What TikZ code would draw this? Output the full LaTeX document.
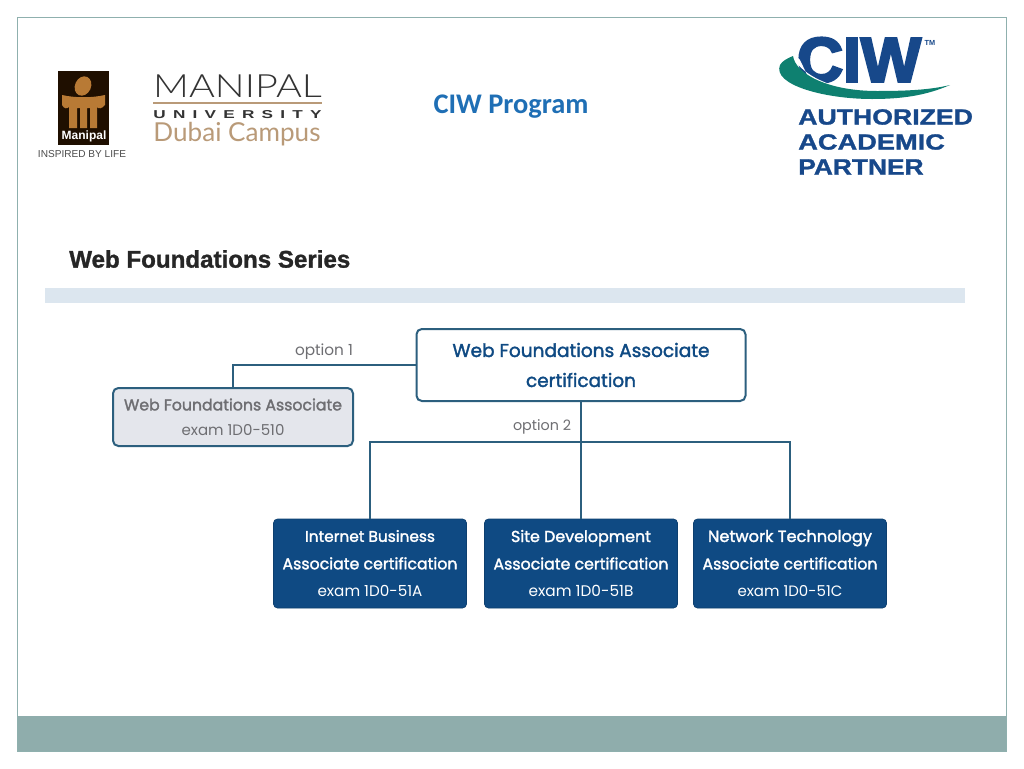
\documentclass[tikz,border=0pt]{standalone}
\usepackage{fontspec}
\usepackage{graphicx}
\setmainfont{Poppins}
\newfontfamily\medf[FakeBold=1.8]{Poppins}
\newfontfamily\arialf{Liberation Sans}
\newfontfamily\heavyarial[FakeBold=1.2]{Liberation Sans}
\newfontfamily\calibf{Carlito}
\newfontfamily\thinf{Lato Light}
\newfontfamily\latof{Lato}
\newfontfamily\heavyf[FakeBold=4]{Liberation Sans}
\newfontfamily\spacedf[LetterSpace=42]{Liberation Sans}
\newcommand{\fs}[1]{\fontsize{#1}{#1}\selectfont}
\newcommand{\lw}[2]{\resizebox{0.75\dimexpr#1pt\relax}{!}{#2}}
\definecolor{framec}{HTML}{8FB0AE}
\definecolor{bandc}{HTML}{8FADAC}
\definecolor{stripc}{HTML}{DCE6EF}
\definecolor{navyc}{HTML}{0F4A83}
\definecolor{linec}{HTML}{2C5F7E}
\definecolor{greyboxc}{HTML}{E4E6EC}
\definecolor{greytxt}{HTML}{6E6E72}
\definecolor{titlec}{HTML}{1F6FB5}
\definecolor{logonavy}{HTML}{17488A}
\definecolor{swooshc}{HTML}{0E8070}
\definecolor{orangec}{HTML}{B87A35}
\definecolor{brownc}{HTML}{B99A78}
\tikzset{
  px/.style={x=0.75pt,y=-0.75pt},
  conn/.style={draw=linec,line width=1.5pt},
  whitebox/.style={draw=linec,line width=1.5pt,fill=white,rounded corners=4pt,inner sep=0pt,align=center,font=\fontsize{10}{22.5}\selectfont},
  greybox/.style={draw=linec,line width=1.5pt,fill=greyboxc,rounded corners=4pt,inner sep=0pt,align=center,minimum width=180pt,minimum height=43.5pt,font=\fontsize{10}{18.75}\selectfont},
  navybox/.style={draw=navyc!85!black,line width=0.5pt,fill=navyc,text=white,rounded corners=3pt,inner sep=0pt,align=center,minimum width=144.75pt,minimum height=66.75pt,font=\fontsize{10}{20.6}\selectfont},
  optlabel/.style={text=greytxt,inner sep=0pt},
}
\begin{document}
\begin{tikzpicture}[px]
\useasboundingbox (0,0) rectangle (1024,768);
\fill[white] (0,0) rectangle (1024,768);
\fill[bandc] (17,716) rectangle (1006,751);
\draw[framec,line width=0.75pt] (17,17) rectangle (1006,751);
\fill[stripc] (45,288) rectangle (965,303);
% Manipal emblem
\fill[black!88!orange] (58,71) rectangle (109,145);
\fill[orangec,rotate around={-25:(83,86)}] (83,86) ellipse (8 and 10);
\fill[orangec] (62,95) .. controls (75,98) and (92,98) .. (105,95) -- (105,105) .. controls (102,109) and (98,109) .. (97,107) -- (97,128) -- (90,128) -- (90,108) -- (87,108) -- (87,128) -- (80,128) -- (80,108) -- (77,108) -- (77,128) -- (69,128) -- (69,107) .. controls (67,109) and (64,109) .. (62,105) -- cycle;
\node[text=white,inner sep=0pt] (mp) at (84,136) {\arialf\bfseries\fs{9}Manipal};
\node[text=black!70,inner sep=0pt] (insp) at (82,154) {\lw{88}{\arialf INSPIRED BY LIFE}};
% Manipal wordmark
\node[text=black!80,inner sep=0pt,anchor=base] (man) at (237.5,97) {\resizebox{126.5pt}{17pt}{\thinf MANIPAL}};
\fill[brownc] (153,102) rectangle (322,104);
\node[text=black!80,inner sep=0pt,anchor=base] (uni) at (237.5,118) {\resizebox{126pt}{6pt}{\spacedf\bfseries UNIVERSITY}};
\node[text=brownc,inner sep=0pt,anchor=base] (dub) at (237,141) {\lw{167}{\latof Dubai Campus}};
% Title
\node[text=titlec,inner sep=0pt] (title) at (511,107) {\calibf\bfseries\fs{18}\lw{155}{CIW Program}};
% CIW logo
\node[text=logonavy,inner sep=0pt] (ciw) at (859,60) {\resizebox{93pt}{33pt}{\heavyf\bfseries CIW}};
\node[text=logonavy,inner sep=0pt] (tm) at (930,43) {\arialf\bfseries\fs{5.5}TM};
\fill[white] (790,50) .. controls (795,72) and (830,92) .. (880,92) -- (880,85) -- (812,85) -- (800,60) -- cycle;
\fill[swooshc] (793,56) .. controls (796,75) and (830,91) .. (877,91) .. controls (905,91) and (930,90) .. (950,85) .. controls (925,96) and (900,99) .. (872,99) .. controls (825,99) and (772,85) .. (780,65) .. controls (782,61) and (788,58) .. (793,56) -- cycle;
\node[text=logonavy,inner sep=0pt,anchor=west] (auth) at (798,117) {\resizebox{131pt}{11.5pt}{\heavyarial\bfseries AUTHORIZED}};
\node[text=logonavy,inner sep=0pt,anchor=west] (acad) at (798,142) {\resizebox{110pt}{11.5pt}{\heavyarial\bfseries ACADEMIC}};
\node[text=logonavy,inner sep=0pt,anchor=west] (part) at (798,167) {\resizebox{94pt}{11.5pt}{\heavyarial\bfseries PARTNER}};
% Heading
\node[text=black!85,inner sep=0pt,anchor=west] (head) at (69,259) {\lw{281}{\heavyarial\bfseries Web Foundations Series}};
% Diagram
\node[whitebox,minimum width=246.75pt,minimum height=54pt,text=navyc] (top) at (581,365) {\lw{257}{\medf Web Foundations Associate}\\\lw{110}{\medf certification}};
\node[greybox,text=greytxt] (left) at (233,417) {\lw{218}{\medf Web Foundations Associate}\\\lw{103}{exam 1D0-510}};
\node[navybox] (b1) at (370,563.5) {\lw{130}{\medf Internet Business}\\\lw{175}{\medf Associate certification}\\\lw{105}{exam 1D0-51A}};
\node[navybox] (b2) at (581,563.5) {\lw{140}{\medf Site Development}\\\lw{175}{\medf Associate certification}\\\lw{105}{exam 1D0-51B}};
\node[navybox] (b3) at (790,563.5) {\lw{164}{\medf Network Technology}\\\lw{175}{\medf Associate certification}\\\lw{105}{exam 1D0-51C}};
\coordinate (bus) at (581,442);
\draw[conn] (top.west) -| (left.north);
\draw[conn] (top.south) -- (b2.north);
\draw[conn] (b1.north) |- (bus) -| (b3.north);
\node[optlabel] (opt1) at (324,352) {\lw{58}{option 1}};
\node[optlabel] (opt2) at (542,427) {\lw{58}{option 2}};
\end{tikzpicture}
\end{document}
